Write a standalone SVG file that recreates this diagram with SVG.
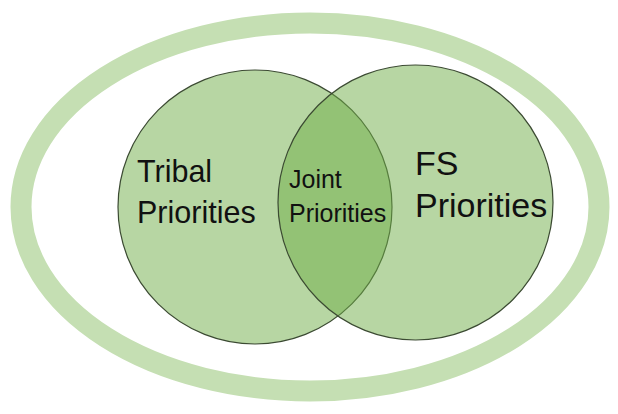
<svg xmlns="http://www.w3.org/2000/svg" width="618" height="414" viewBox="0 0 618 414">
<style>
.set{fill:#70ad47;fill-opacity:0.5;stroke:#3b4a32;stroke-width:1.2}
.lbl{font-family:"Liberation Sans",Arial,sans-serif;fill:#111}
</style>
<rect width="618" height="414" fill="#ffffff"/>
<g id="outer-ring">
<ellipse cx="310" cy="207" rx="289" ry="184" fill="none" stroke="#c5dfb3" stroke-width="21"/>
</g>
<g id="connectors"></g>
<g id="tribal">
<circle class="set" cx="255" cy="207" r="137"/>
<text class="lbl" font-size="30.5"><tspan x="137" y="182">Tribal</tspan><tspan x="137" y="223">Priorities</tspan></text>
</g>
<g id="fs">
<circle class="set" cx="415.5" cy="202.5" r="137.5"/>
<text class="lbl" font-size="34"><tspan x="415" y="175">FS</tspan><tspan x="415" y="217">Priorities</tspan></text>
</g>
<g id="joint">
<text class="lbl" font-size="25"><tspan x="289" y="188">Joint</tspan><tspan x="289" y="222">Priorities</tspan></text>
</g>
</svg>
